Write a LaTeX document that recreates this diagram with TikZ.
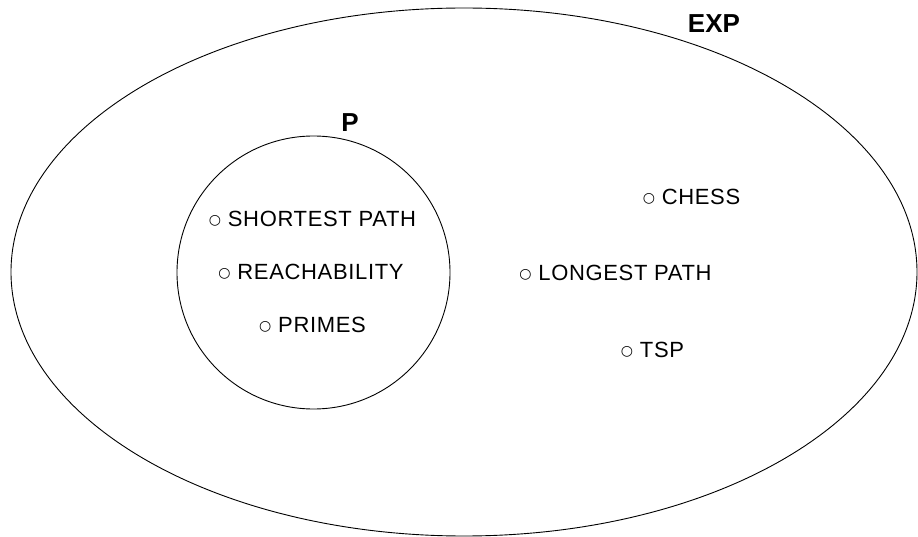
\documentclass[tikz,border=0pt]{standalone}
\usepackage{fontspec}
\setmainfont{Liberation Sans}
\newfontfamily\symfont{DejaVu Sans}
\usetikzlibrary{shapes.geometric}
\tikzset{
  setline/.style={draw=black, line width=0.9pt},
  item/.style={anchor=base, inner sep=0pt, font=\fontsize{22}{26}\selectfont\addfontfeature{LetterSpace=3}},
  setlabel/.style={anchor=base, inner sep=0pt, font=\fontsize{26}{30}\selectfont\bfseries},
}
\newcommand{\bul}{\raisebox{2.3pt}{\symfont\fontsize{14}{14}\selectfont ○}}
\begin{document}
\begin{tikzpicture}[x=1pt,y=-1pt]
\useasboundingbox (0,0) rectangle (918,537);
\node[setline, ellipse, minimum width=906pt, minimum height=528pt, inner sep=0pt] (expset) at (464,272) {};
\node[setline, circle, minimum size=273pt, inner sep=0pt] (pset) at (313.5,272.5) {};
\node[setlabel] (explabel) at (714,33) {EXP};
\node[setlabel] (plabel) at (350,132) {P};
\node[item] (sp) at (312.5,226.5) {\bul\ SHORTEST PATH};
\node[item] (reach) at (311,279.5) {\bul\ REACHABILITY};
\node[item] (primes) at (312.5,332.5) {\bul\ PRIMES};
\node[item] (chess) at (691.5,204.5) {\bul\ CHESS};
\node[item] (lp) at (615.5,280.5) {\bul\ LONGEST PATH};
\node[item] (tsp) at (652.5,357.5) {\bul\ TSP};
\end{tikzpicture}
\end{document}
